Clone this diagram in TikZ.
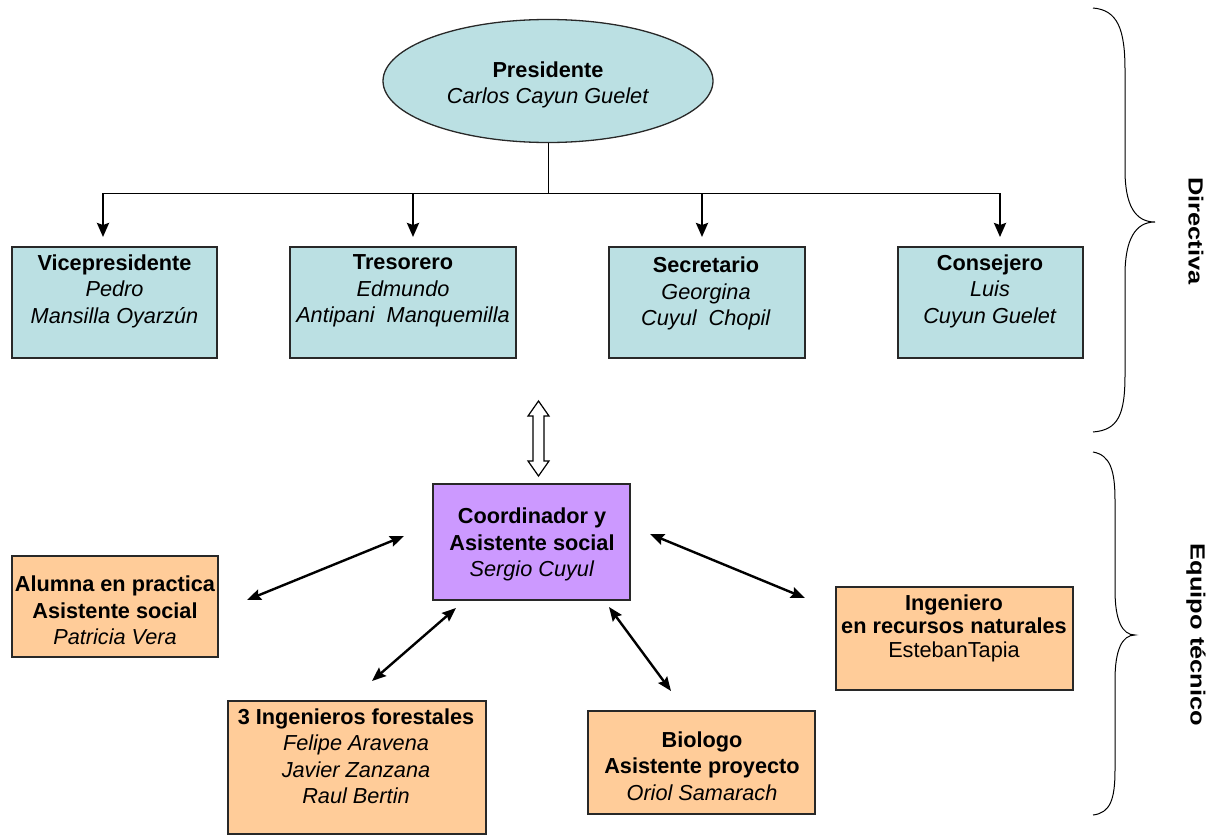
\documentclass[tikz,border=0pt]{standalone}
\usepackage{fontspec}
\setmainfont{Liberation Sans}
\usetikzlibrary{arrows.meta,shapes.geometric}
\definecolor{dirblue}{RGB}{187,224,227}
\definecolor{teamorange}{RGB}{255,204,153}
\definecolor{coordpurple}{RGB}{204,153,255}
\definecolor{edge}{RGB}{40,40,40}
\begin{document}
\begin{tikzpicture}[x=1pt,y=-1pt,
  box/.style={draw=edge, line width=1.3pt, rectangle, inner sep=0pt},
  txt/.style={align=center, inner sep=0pt, font=\fontsize{21.7}{26.5}\selectfont},
  downarrow/.style={line width=2.4pt, -{Stealth[length=14pt,width=12pt,inset=2pt]}},
  conn/.style={line width=2.4pt, {Stealth[length=14pt,width=11pt,inset=2pt]}-{Stealth[length=14pt,width=11pt,inset=2pt]}},
  sidelabel/.style={rotate=-90, inner sep=0pt, font=\fontsize{20.5}{24}\selectfont\bfseries}
]
\useasboundingbox (0,0) rectangle (1224,835);

% President
\node[ellipse, draw=edge, line width=1.3pt, fill=dirblue, minimum width=330pt, minimum height=123pt, inner sep=0pt] (pres) at (548,81) {};
\node[txt] (prestxt) at (548,85) {\textbf{Presidente}\\\textit{Carlos Cayun Guelet}};

% Directiva boxes
\node[box, fill=dirblue, minimum width=205pt, minimum height=111pt] (vice) at (114.5,302.5) {};
\node[box, fill=dirblue, minimum width=226pt, minimum height=111pt] (treso) at (403,302.5) {};
\node[box, fill=dirblue, minimum width=196pt, minimum height=111pt] (secre) at (707,302.5) {};
\node[box, fill=dirblue, minimum width=185pt, minimum height=111pt] (conse) at (990.5,302.5) {};

\node[txt] (vicetxt) at (114.5,291) {\textbf{Vicepresidente}\\\textit{Pedro}\\\textit{Mansilla Oyarzún}};
\node[txt] (tresotxt) at (403,291) {\textbf{Tresorero}\\\textit{Edmundo}\\\textit{Antipani\ \ Manquemilla}};
\node[txt] (secretxt) at (706,293.5) {\textbf{Secretario}\\\textit{Georgina}\\\textit{Cuyul\ \ Chopil}};
\node[txt] (consetxt) at (990,291) {\textbf{Consejero}\\\textit{Luis}\\\textit{Cuyun Guelet}};

% tree connectors
\coordinate (hub) at (548,193);
\coordinate (hl) at (103,193);
\coordinate (hr) at (1000,193);
\draw[line width=1pt] (pres.south) -- (hub);
\draw[line width=1pt] (hl) -- (hr);
\draw[downarrow] (hl) -- (103,237);
\draw[downarrow] (413,193) -- (413,237);
\draw[downarrow] (702,193) -- (702,237);
\draw[downarrow] (hr) -- (1000,237);

% hollow double arrow
\draw[line width=1.2pt, fill=white, line join=miter]
  (538.5,401) -- (549,416) -- (544,416) -- (544,461) -- (549,461) -- (538.5,476)
  -- (528,461) -- (533,461) -- (533,416) -- (528,416) -- cycle;

% Team boxes
\node[box, fill=coordpurple, minimum width=197pt, minimum height=116pt] (coord) at (531.5,542) {};
\node[box, fill=teamorange, minimum width=206pt, minimum height=101pt] (alumna) at (115,606.5) {};
\node[box, fill=teamorange, minimum width=258pt, minimum height=133pt] (ingfor) at (357,767.5) {};
\node[box, fill=teamorange, minimum width=227pt, minimum height=103pt] (bio) at (701.5,762.5) {};
\node[box, fill=teamorange, minimum width=237pt, minimum height=103pt] (ingnat) at (954.5,638.5) {};

\node[txt] (coordtxt) at (532,544.5) {\textbf{Coordinador y}\\\textbf{Asistente social}\\\textit{Sergio Cuyul}};
\node[txt] (alumnatxt) at (115,610.5) {\textbf{Alumna en practica}\\\textbf{Asistente social}\\\textit{Patricia Vera}};
\node[txt] (ingfortxt) at (356,756) {\textbf{3 Ingenieros forestales}\\\textit{Felipe Aravena}\\\textit{Javier Zanzana}\\\textit{Raul Bertin}};
\node[txt] (biotxt) at (702,766) {\textbf{Biologo}\\\textbf{Asistente proyecto}\\\textit{Oriol Samarach}};
\node[txt, font=\fontsize{21.7}{23.5}\selectfont] (ingnattxt) at (954,628) {\textbf{Ingeniero}\\\textbf{en recursos naturales}\\EstebanTapia};

% team connectors
\coordinate (c1a) at (404,536); \coordinate (c1b) at (247,600);
\coordinate (c2a) at (456,608); \coordinate (c2b) at (372,681);
\coordinate (c3a) at (609,607); \coordinate (c3b) at (671,691);
\coordinate (c4a) at (650,534); \coordinate (c4b) at (805,598);
\draw[conn] (c1a) -- (c1b);
\draw[conn] (c2a) -- (c2b);
\draw[conn] (c3a) -- (c3b);
\draw[conn] (c4a) -- (c4b);

% braces
\draw[line width=1pt]
  (1093,8) .. controls (1118,10) and (1125,30) .. (1125,70) -- (1125,170)
  .. controls (1125,205) and (1135,222) .. (1155,222)
  .. controls (1135,222) and (1125,240) .. (1125,275) -- (1125,375)
  .. controls (1125,415) and (1118,430) .. (1093,432);
\draw[line width=1pt]
  (1093,452) .. controls (1110,455) and (1115,470) .. (1115,500) -- (1115,590)
  .. controls (1115,620) and (1122,635) .. (1135,635)
  .. controls (1122,635) and (1115,650) .. (1115,680) -- (1115,770)
  .. controls (1115,800) and (1110,813) .. (1093,815);

\node[sidelabel] (dirlbl) at (1196,231) {\scalebox{1.24}[1]{Directiva}};
\node[sidelabel] (eqlbl) at (1196,635) {\scalebox{1.24}[1]{Equipo técnico}};
\end{tikzpicture}
\end{document}
